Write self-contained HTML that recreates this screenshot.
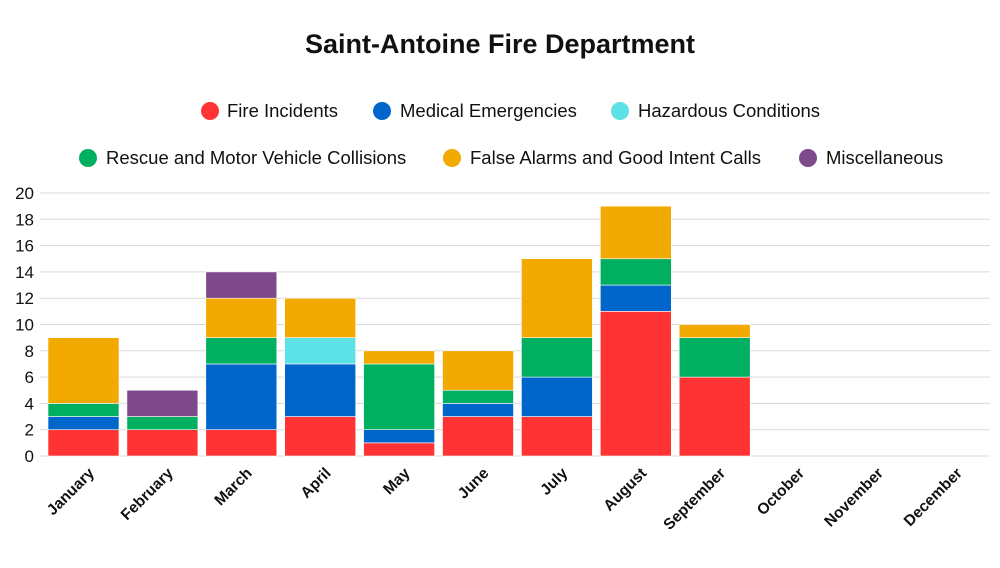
<!DOCTYPE html>
<html><head><meta charset="utf-8"><style>
body{margin:0;background:#fff;}
svg text{font-family:"Liberation Sans",sans-serif;fill:#111;}
</style></head><body>
<svg width="1000" height="563" viewBox="0 0 1000 563" xmlns="http://www.w3.org/2000/svg">
<rect width="1000" height="563" fill="#fff"/>
<text x="500" y="53" text-anchor="middle" font-size="27" font-weight="bold">Saint-Antoine Fire Department</text>
<g font-size="18.5">
<circle cx="210" cy="111" r="9" fill="#FF3333"/><text x="227" y="117">Fire Incidents</text>
<circle cx="382" cy="111" r="9" fill="#0066CC"/><text x="400" y="117">Medical Emergencies</text>
<circle cx="620" cy="111" r="9" fill="#5CE1E6"/><text x="638" y="117">Hazardous Conditions</text>
<circle cx="88" cy="158" r="9" fill="#00B060"/><text x="106" y="164">Rescue and Motor Vehicle Collisions</text>
<circle cx="452" cy="158" r="9" fill="#F2A900"/><text x="470" y="164">False Alarms and Good Intent Calls</text>
<circle cx="808" cy="158" r="9" fill="#7E4A8C"/><text x="826" y="164">Miscellaneous</text>
</g>
<g id="grid" stroke="#d9d9d9" stroke-width="1"></g>
<g id="ylab" font-size="17" text-anchor="end"></g>
<g id="bars"></g>
<g id="xlab" font-size="15.5" font-weight="bold" text-anchor="end"></g>
<script>
var ns="http://www.w3.org/2000/svg";
function el(t,a,p,txt){var e=document.createElementNS(ns,t);for(var k in a)e.setAttribute(k,a[k]);if(txt!==undefined)e.textContent=txt;document.getElementById(p).appendChild(e);}
var y0=456,u=13.15;
for(var i=0;i<=10;i++){var y=y0-i*2*u;el('line',{x1:40,x2:990,y1:y,y2:y},'grid');el('text',{x:34,y:y+6},'ylab',String(i*2));}
var cols=["#FF3333","#0066CC","#5CE1E6","#00B060","#F2A900","#7E4A8C"];
var d=[[2,1,0,1,5,0],[2,0,0,1,0,2],[2,5,0,2,3,2],[3,4,2,0,3,0],[1,1,0,5,1,0],[3,1,0,1,3,0],[3,3,0,3,6,0],[11,2,0,2,4,0],[6,0,0,3,1,0]];
var m=["January","February","March","April","May","June","July","August","September","October","November","December"];
for(var j=0;j<12;j++){var x=48+j*78.9;
 if(d[j]){var c=0;for(var s=0;s<6;s++){if(!d[j][s])continue;el('rect',{x:x,y:y0-(c+d[j][s])*u,width:71,height:d[j][s]*u,fill:cols[s],stroke:'#fff','stroke-width':0.6},'bars');c+=d[j][s];}}
 var cx=x+40,cy=467;el('text',{x:cx,y:cy+10,transform:'rotate(-45 '+cx+' '+cy+')'},'xlab',m[j]);
}
</script>
</svg>
</body></html>
